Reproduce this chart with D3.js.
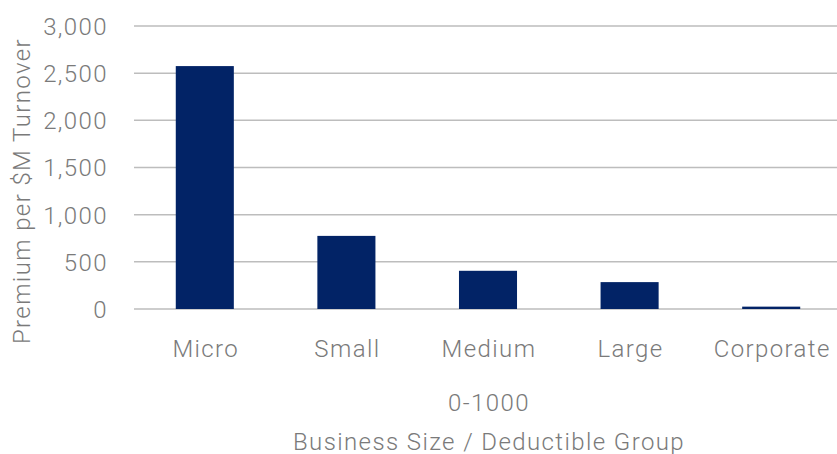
<!DOCTYPE html>
<html>
<head>
<meta charset="utf-8">
<script src="https://cdn.jsdelivr.net/npm/d3@7/dist/d3.min.js"></script>
<style>
  html, body { margin: 0; padding: 0; background: #fff; }
  svg { display: block; }
  text { font-family: Roboto, "Noto Sans", sans-serif; font-weight: 300; fill: #7a7a7a; letter-spacing: 1.4px; }
</style>
</head>
<body>
<svg id="chart" width="837" height="454"></svg>
<script>
// Premium per $M turnover by business size
const categories = ["Micro", "Small", "Medium", "Large", "Corporate"];
const premiums = [2575, 775, 405, 285, 25];
const yTicks = [0, 500, 1000, 1500, 2000, 2500, 3000];
const groupLabel = "0-1000";
const xTitle = "Business Size / Deductible Group";
const yTitle = "Premium per $M Turnover";

const svg = d3.select("#chart");
const margin = { left: 134, right: -5, top: 26, bottom: 145 };
const W = 837, H = 454;
const fs = "24px";

const x = d3.scaleBand()
  .domain(categories)
  .range([margin.left, W - margin.right])
  .paddingInner(0.59)
  .paddingOuter(0.295);

const y = d3.scaleLinear()
  .domain([0, 3000])
  .range([H - margin.bottom, margin.top]);

// horizontal gridlines
svg.append("g")
  .selectAll("line")
  .data(yTicks)
  .join("line")
  .attr("x1", margin.left)
  .attr("x2", W - margin.right)
  .attr("y1", d => y(d))
  .attr("y2", d => y(d))
  .attr("stroke", "#bdbdbd")
  .attr("stroke-width", 1.5);

// y axis tick labels
const yAxis = d3.axisLeft(y).tickValues(yTicks).tickSize(0).tickPadding(0)
  .tickFormat(d3.format(","));
const ya = svg.append("g").attr("transform", `translate(${margin.left - 26},0)`).call(yAxis);
ya.select(".domain").remove();
ya.selectAll("text")
  .attr("font-family", null).attr("font-size", null)
  .style("font-size", fs).attr("dy", "0.35em");

// bars
svg.append("g")
  .selectAll("rect")
  .data(categories.map((c, i) => ({ c, v: premiums[i] })))
  .join("rect")
  .attr("x", d => x(d.c))
  .attr("width", x.bandwidth())
  .attr("y", d => y(d.v))
  .attr("height", d => y(0) - y(d.v))
  .attr("fill", "#022366");

// x axis category labels
const xAxis = d3.axisBottom(x).tickSize(0).tickPadding(0);
const xa = svg.append("g").attr("transform", `translate(1,${y(0) + 40})`).call(xAxis);
xa.select(".domain").remove();
xa.selectAll("text")
  .attr("font-family", null).attr("font-size", null)
  .style("font-size", fs).attr("dy", "0.35em");

// group label and axis titles
const midX = (x(categories[0]) + x(categories[categories.length - 1]) + x.bandwidth()) / 2;
svg.append("text")
  .attr("x", midX + 1).attr("y", 403).attr("dy", "0.35em")
  .attr("text-anchor", "middle").style("font-size", fs)
  .text(groupLabel);
svg.append("text")
  .attr("x", midX + 1).attr("y", 442).attr("dy", "0.35em")
  .attr("text-anchor", "middle").style("font-size", fs)
  .text(xTitle);
svg.append("text")
  .attr("transform", `translate(22,${191}) rotate(-90)`)
  .attr("dy", "0.35em")
  .attr("text-anchor", "middle").style("font-size", fs)
  .text(yTitle);
</script>
</body>
</html>
